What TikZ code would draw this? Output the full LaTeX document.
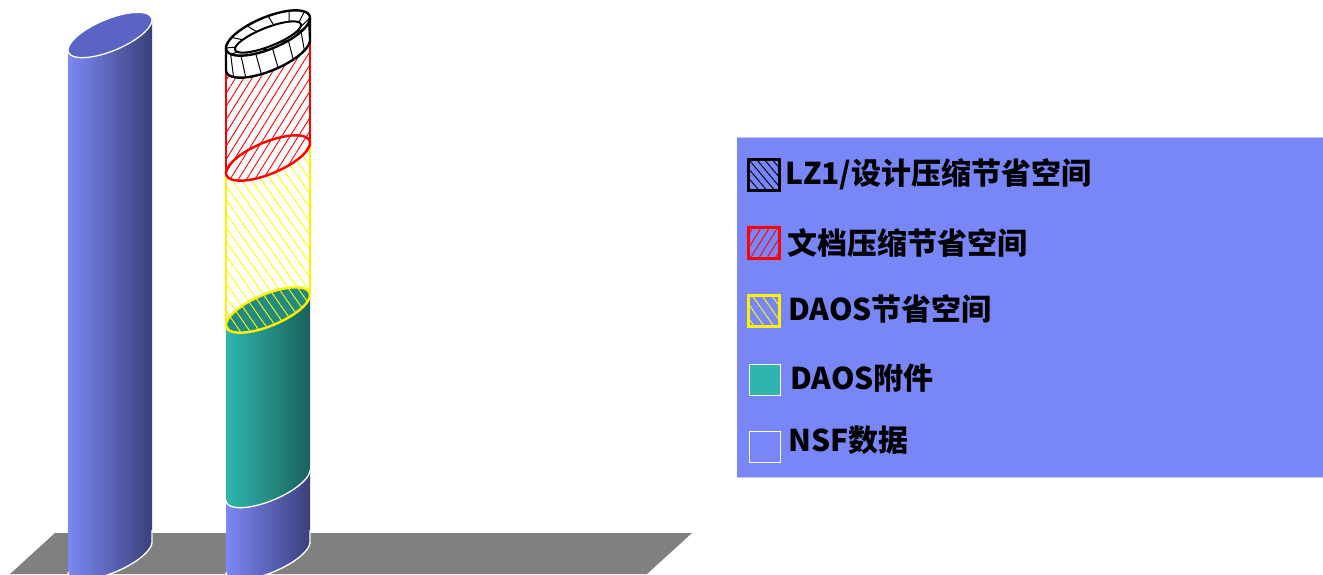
\documentclass[tikz,border=0pt]{standalone}
\usepackage{fontspec}
\newfontfamily\cjk{Noto Sans CJK SC}
\usetikzlibrary{patterns.meta}

\definecolor{legendbg}{RGB}{120,134,248}
\definecolor{nsflight}{RGB}{124,136,244}
\definecolor{nsfdark}{RGB}{58,64,122}
\definecolor{nsftop}{RGB}{90,100,196}
\definecolor{daoslight}{RGB}{46,182,174}
\definecolor{daosdark}{RGB}{26,98,92}
\definecolor{daostop}{RGB}{34,138,128}
\definecolor{floorgray}{RGB}{128,128,128}

\tikzset{
  arc el/.style n args={4}{insert path={-- plot[domain=#3:#4, samples=48, smooth]
      ({#1+42*cos(\x)},{#2-15*cos(\x)+17*sin(\x)})}},
  nsf side/.style={left color=nsflight, right color=nsfdark},
  daos side/.style={left color=daoslight, right color=daosdark},
  white edge/.style={draw=white, line width=1.3pt},
  red hatch/.style={pattern={Lines[angle=58, distance=7pt, line width=0.9pt]}, pattern color=red},
  yellow hatch/.style={pattern={Lines[angle=-55, distance=8pt, line width=0.9pt]}, pattern color=yellow},
  black hatch/.style={pattern={Lines[angle=-50, distance=6pt, line width=0.9pt]}, pattern color=black},
  cap line/.style={black, line width=2.4pt, line join=round},
  swatch/.style={minimum size=31pt, inner sep=0pt, line width=2.5pt},
  entry/.style={anchor=west, inner sep=0pt, font=\cjk\bfseries\fontsize{30}{32}\selectfont},
}

\begin{document}
\begin{tikzpicture}[x=1pt, y=-1pt]
  \useasboundingbox (0,0) rectangle (1323,574);

  % ====== FLOOR ======
  \fill[floorgray] (55,533) -- (692,533) -- (647,574) -- (10,574) -- cycle;

  % ====== LEFT BAR (NSF only) ======
  \shade[nsf side] (68,572) [arc el={110}{557}{180}{0}] -- (152,20)
    [arc el={110}{35}{0}{180}] -- cycle;
  \fill[nsftop] (68,50) [arc el={110}{35}{180}{-180}] -- cycle;
  \draw[white edge] (68,50) [arc el={110}{35}{180}{-180}] -- cycle;
  \draw[white edge] (68,572) [arc el={110}{557}{180}{0}] -- (152,530);

  % ====== RIGHT BAR ======
  % NSF data
  \shade[nsf side] (226,572) [arc el={268}{557}{180}{0}] -- (310,470)
    [arc el={268}{485}{0}{180}] -- cycle;
  \draw[white edge] (226,572) [arc el={268}{557}{180}{0}] -- (310,530);

  % DAOS attachments
  \shade[daos side] (226,500) [arc el={268}{485}{180}{0}] -- (310,295)
    [arc el={268}{310}{0}{180}] -- cycle;
  \draw[white edge] (226,500) [arc el={268}{485}{180}{0}];
  \fill[daostop] (226,325) [arc el={268}{310}{180}{-180}] -- cycle;

  % DAOS savings (yellow)
  \fill[yellow hatch] (226,325) [arc el={268}{310}{180}{0}] -- (310,143)
    [arc el={268}{158}{0}{180}] -- cycle;
  \draw[yellow, line width=2.4pt] (226,173) -- (226,325);
  \draw[yellow, line width=2.4pt] (310,143) -- (310,295);
  \draw[yellow, line width=2.4pt] (226,325) [arc el={268}{310}{180}{-180}] -- cycle;

  % document compression savings (red)
  \fill[red hatch] (226,173) [arc el={268}{158}{180}{0}] -- (310,40)
    [arc el={268}{55}{0}{180}] -- cycle;
  \draw[red, line width=2.4pt] (226,70) -- (226,173);
  \draw[red, line width=2.4pt] (310,40) -- (310,143);
  \draw[red, line width=2.4pt] (226,173) [arc el={268}{158}{180}{-180}] -- cycle;

  % LZ1 / design compression savings (black cap)
  \fill[white] (226,70) [arc el={268}{55}{180}{0}] -- (310,18)
    [arc el={268}{33}{0}{-180}] -- cycle;
  \foreach \t in {15,38,...,165} {
    \draw[black, line width=1pt]
      ({268+42*cos(\t)},{33-15*cos(\t)+17*sin(\t)}) --
      ({268+42*cos(\t-8)},{55-15*cos(\t-8)+17*sin(\t-8)});
  }
  \foreach \t in {0,30,...,330} {
    \draw[black, line width=1pt]
      ({268+42*cos(\t)},{33-15*cos(\t)+17*sin(\t)}) --
      ({268+33*cos(\t+10)},{37-12*cos(\t+10)+10*sin(\t+10)});
  }
  \draw[cap line] (226,48) -- (226,70) [arc el={268}{55}{180}{0}] -- (310,18);
  \draw[cap line] (226,48) [arc el={268}{33}{180}{-180}] -- cycle;
  \draw[black, line width=2pt] plot[domain=0:360, samples=48, smooth]
    ({268+33*cos(\x)},{37-12*cos(\x)+10*sin(\x)});

  % ====== LEGEND ======
  \fill[legendbg] (737,137) rectangle (1323,477);
  \draw[white!55!legendbg] (737,137) -- (1323,137);
  \draw[white!55!legendbg] (737,477) -- (1323,477);

  \node[swatch, draw=black, black hatch] (swlz) at (764,175) {};
  \node[entry] (txtlz) at (785,174) {LZ1/设计压缩节省空间};

  \node[swatch, draw=red, red hatch] (swdoc) at (764,243) {};
  \node[entry] (txtdoc) at (787,243) {文档压缩节省空间};

  \node[swatch, draw=yellow, yellow hatch] (swdaos) at (764,311) {};
  \node[entry] (txtdaos) at (788,309) {DAOS节省空间};

  \node[swatch, draw=white, line width=1.5pt, fill=daoslight] (swatt) at (765,380) {};
  \node[entry] (txtatt) at (790,378) {DAOS附件};

  \node[swatch, draw=white, line width=1.5pt, fill=legendbg] (swnsf) at (765,447) {};
  \node[entry] (txtnsf) at (788,440) {NSF数据};

\end{tikzpicture}
\end{document}
